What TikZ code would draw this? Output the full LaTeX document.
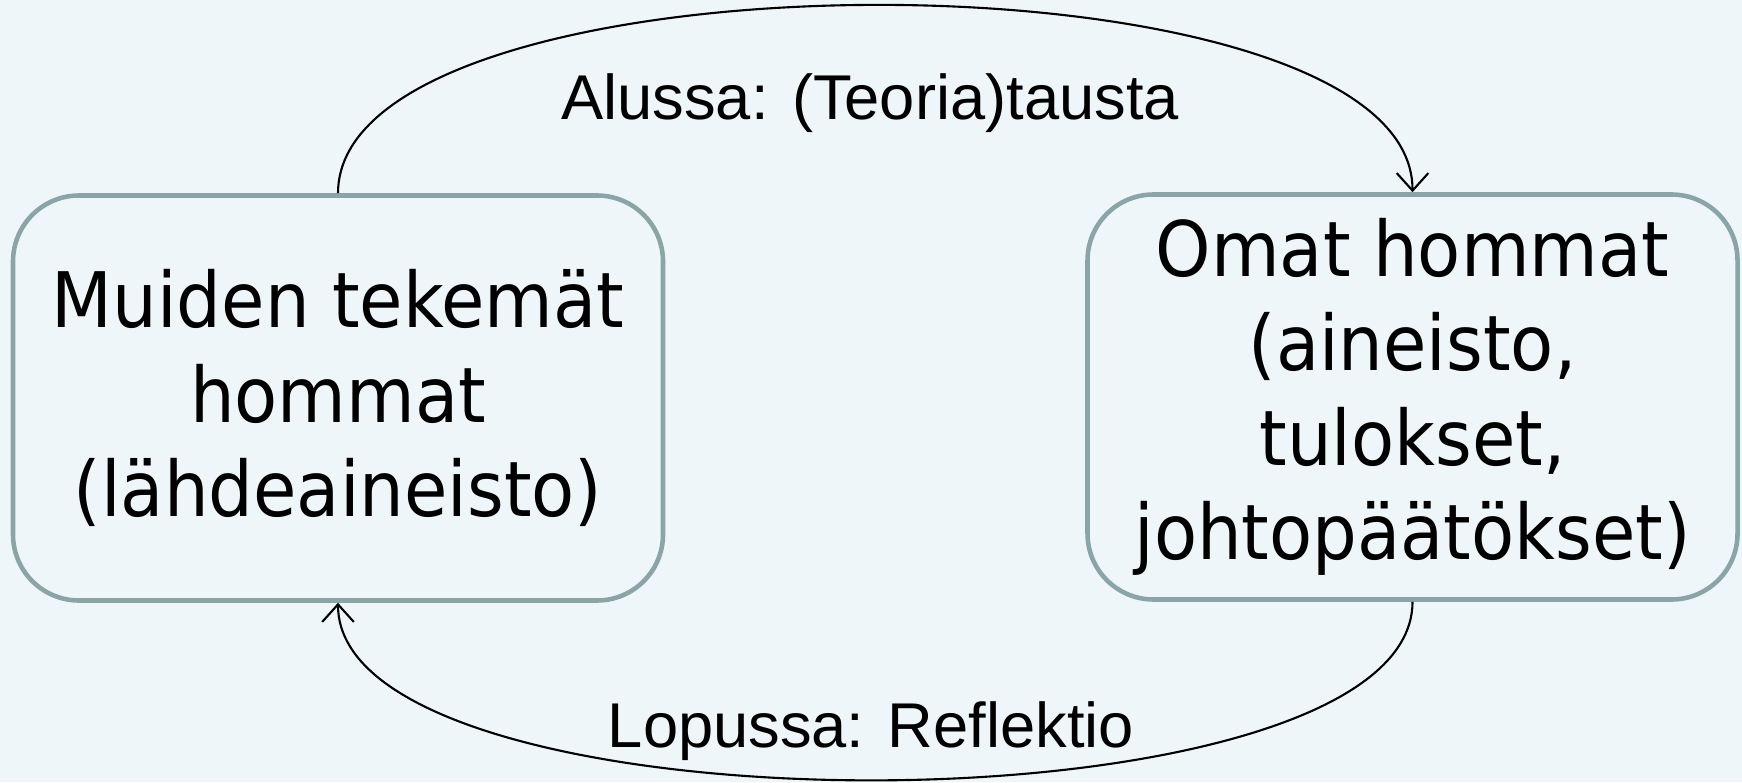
\documentclass[tikz,border=0pt]{standalone}
\usepackage{fontspec}
\setmainfont{Liberation Sans}
\newfontfamily\boxfont{DejaVu Sans}[FakeStretch=0.92]
\usetikzlibrary{arrows.meta,calc,positioning}

\definecolor{paper}{HTML}{EFF6FA}
\definecolor{rim}{HTML}{8AA4A7}

\begin{document}
\begin{tikzpicture}[
>={Straight Barb[length=5pt,width=9pt]},
box/.style={
	draw=rim,
	line width=1.3pt,
	rounded corners=0.66cm,
	minimum width=6.5cm,
	minimum height=4.05cm,
	align=center,
	font=\boxfont\fontsize{21.8}{26.9}\selectfont
},
flow/.style={
	->,
	line width=0.6pt
},
caption/.style={
	anchor=base,
	inner sep=0pt,
	font=\fontsize{18}{22}\selectfont
}
]
\fill[paper] (0,0) rectangle (17.42,7.82);
\useasboundingbox (0,0) rectangle (17.42,7.82);

\node[box] (muut) at (3.38,3.84) {Muiden tekemät\\hommat\\(lähdeaineisto)};
\node[box] (omat) at (14.125,3.85) {Omat hommat\\(aineisto,\\tulokset,\\johtopäätökset)};

\draw[flow] (muut.north) .. controls +(0,2.5) and +(0,2.5) .. (omat.north);
\draw[flow] (omat.south) .. controls +(0,-2.37) and +(0,-2.37) .. (muut.south);

\node[caption] (alussa) at (8.70,6.62) {Alussa: (Teoria)tausta};
\node[caption] (lopussa) at (8.71,0.35) {Lopussa: Reflektio};
\end{tikzpicture}
\end{document}
